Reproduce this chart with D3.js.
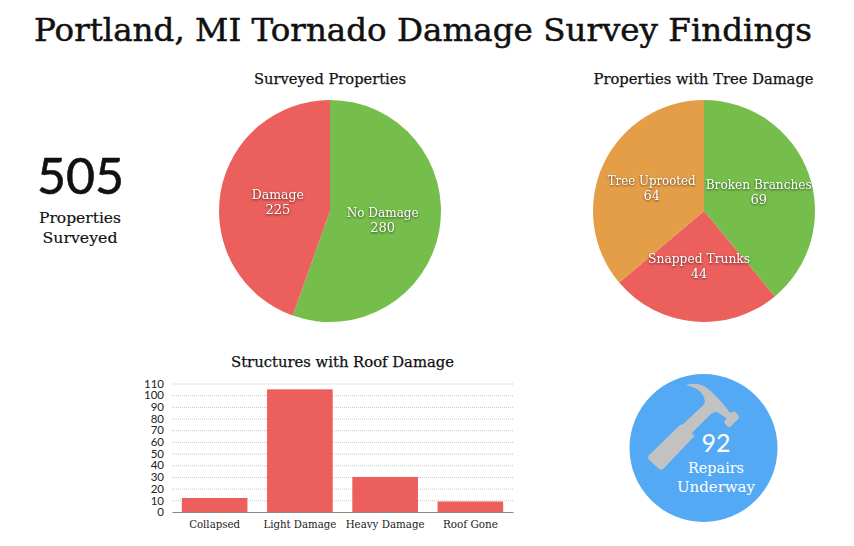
<!DOCTYPE html>
<html><head><meta charset="utf-8">
<script src="https://cdn.jsdelivr.net/npm/d3@7/dist/d3.min.js"></script>
<style>
html,body{margin:0;padding:0;background:#fff}
svg{display:block}
text{font-family:"DejaVu Serif",serif}
.sans{font-family:Lato,"Open Sans",sans-serif}
.lbl{filter:drop-shadow(0 1px 1px rgba(0,0,0,.6))}
</style></head><body>
<svg id="c" width="854" height="546"></svg>
<script>
const surveyCats=["No Damage","Damage"];
const surveyVals=[280,225];
const surveyCols=["#76be4b","#eb5f5c"];
const treeCats=["Broken Branches","Snapped Trunks","Tree Uprooted"];
const treeVals=[69,44,64];
const treeCols=["#76be4b","#eb5f5c","#e49e47"];
const roofCats=["Collapsed","Light Damage","Heavy Damage","Roof Gone"];
const roofVals=[12,105,30,9];
const roofTicks=[0,10,20,30,40,50,60,70,80,90,100,110];
const totalSurveyed=505, repairs=92;

const svg=d3.select("#c");
function fit(sel,w){return sel.attr("textLength",w).attr("lengthAdjust","spacingAndGlyphs");}
function title(t,x,y,size,w,sw){return fit(svg.append("text").attr("x",x).attr("y",y).attr("text-anchor","middle").attr("font-size",size).attr("fill","#111").attr("stroke","#111").attr("stroke-width",sw).text(t),w);}

title("Portland, MI Tornado Damage Survey Findings",423,41,32,778,.5);
title("Surveyed Properties",330,84,14.5,152,.25);
title("Properties with Tree Damage",703.5,84,14.5,220,.25);
title("Structures with Roof Damage",342.5,367,14.5,223,.25);

function pie(cx,cy,r,cats,vals,cols,widths,nudge){
  const g=svg.append("g").attr("transform",`translate(${cx},${cy})`);
  const arcs=d3.pie().sort(null)(vals);
  const arc=d3.arc().innerRadius(0).outerRadius(r);
  g.selectAll("path").data(arcs).join("path").attr("d",arc).attr("fill",(d,i)=>cols[i]);
  const l=g.append("g").attr("class","lbl");
  arcs.forEach((a,i)=>{
    const [x,y]=arc.centroid(a);
    const nx=x+nudge[i];
    fit(l.append("text").attr("x",nx).attr("y",y-3).attr("text-anchor","middle").attr("font-size",12.5).attr("fill","#fff").text(cats[i]),widths[i]);
    l.append("text").attr("x",nx).attr("y",y+12).attr("text-anchor","middle").attr("font-size",13).attr("fill","#fff").text(vals[i]);
  });
}
pie(330,211,111,surveyCats,surveyVals,surveyCols,[72,52],[-2,2.5]);
pie(704,211,111,treeCats,treeVals,treeCols,[106,102,88],[2.5,0,-2]);

// big number
svg.append("text").attr("class","sans").attr("x",80.5).attr("y",194).attr("text-anchor","middle").attr("font-size",50).attr("fill","#111").attr("stroke","#111").attr("stroke-width",.6).text(totalSurveyed);
title("Properties",80,223,14.5,82,.15);
title("Surveyed",80,243,14.5,75,.15);

// bars
const y=d3.scaleLinear().domain([0,110]).range([512,383.5]);
const x=d3.scaleBand().domain(roofCats).range([172,513]).paddingInner(0.23).paddingOuter(0.115);
svg.append("g").selectAll("line").data(roofTicks.filter(d=>d>0)).join("line")
  .attr("x1",172).attr("x2",513).attr("y1",d=>y(d)+.5).attr("y2",d=>y(d)+.5)
  .attr("stroke","#c4c4c4").attr("stroke-width",1).attr("stroke-dasharray","1,1");
svg.append("g").selectAll("rect").data(roofCats).join("rect")
  .attr("x",d=>x(d)).attr("width",x.bandwidth())
  .attr("y",(d,i)=>y(roofVals[i])).attr("height",(d,i)=>y(0)-y(roofVals[i])).attr("fill","#eb5f5c");
const yA=svg.append("g").attr("transform","translate(172,0)").call(d3.axisLeft(y).tickValues(roofTicks).tickSize(0).tickPadding(8));
yA.select(".domain").remove();
yA.selectAll("text").attr("class","sans").attr("font-size",11.5).style("font-family","Lato,sans-serif").attr("fill","#222");
const xA=svg.append("g").attr("transform","translate(0,512)").call(d3.axisBottom(x).tickSize(0).tickPadding(8));
xA.select(".domain").attr("stroke","#888").attr("stroke-width",1);
const xw={"Collapsed":51,"Light Damage":73,"Heavy Damage":79,"Roof Gone":55};
xA.selectAll("text").attr("font-size",11).attr("fill","#222").style("font-family",'"DejaVu Serif",serif').each(function(d){fit(d3.select(this),xw[d]);});

// repairs badge
svg.append("circle").attr("cx",703.5).attr("cy",448).attr("r",74).attr("fill","#54a9f5");
svg.append("path").attr("transform","translate(620,370) scale(0.3333)")
  .attr("d","M198,45 Q235,34 262,55 Q292,78 330,128 L340,125 Q345,124 349,129 L356,137 Q359,142 355,146 L331,170 Q327,173 322,169 L315,161 Q311,156 315,151 L320,145 L290,125 L275,130 L215,190 L224,198 L130,296 Q124,302 117,297 L88,270 Q81,263 87,256 L180,165 L190,162 L250,105 L255,95 Q252,72 235,60 Q220,50 198,45 Z")
  .attr("fill","#c2c2c2");
svg.append("text").attr("class","sans").attr("x",716).attr("y",452).attr("text-anchor","middle").attr("font-size",25).attr("fill","#fff").text(repairs);
fit(svg.append("text").attr("x",716).attr("y",473).attr("text-anchor","middle").attr("font-size",14.5).attr("fill","#fff").text("Repairs"),56);
fit(svg.append("text").attr("x",716).attr("y",492).attr("text-anchor","middle").attr("font-size",14.5).attr("fill","#fff").text("Underway"),78);
</script></body></html>
